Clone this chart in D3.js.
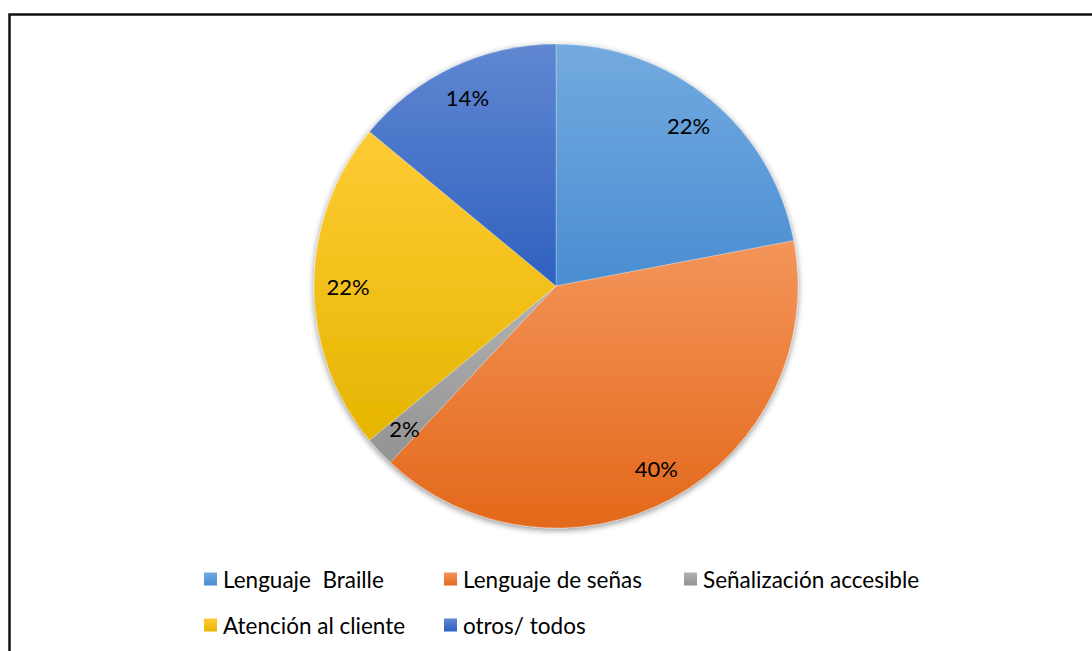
<!DOCTYPE html>
<html><head><meta charset="utf-8">
<script src="https://cdn.jsdelivr.net/npm/d3@7"></script>
<style>body{margin:0;background:#fff}svg{display:block}text{font-family:Lato,"Open Sans",sans-serif;fill:#000}</style>
</head><body><svg id="c" width="1092" height="651"></svg>
<script>
const categories = ["Lenguaje  Braille","Lenguaje de señas","Señalización accesible","Atención al cliente","otros/ todos"];
const values = [22,40,2,22,14];
const labels = ["22%","40%","2%","22%","14%"];
const colorsTop = ["#73aadf","#f4955a","#b2b2b2","#ffcb35","#6087d1"];
const colorsBottom = ["#4a8dd2","#e3681a","#939393","#e6b500","#2f61bf"];

const svg = d3.select("#c");
const W = 1092, H = 651;
svg.append("rect").attr("x",9.5).attr("y",14.5).attr("width",W+20).attr("height",H+20)
  .attr("fill","#fff").attr("stroke","#111").attr("stroke-width",2.5);

const defs = svg.append("defs");
const f = defs.append("filter").attr("id","sh").attr("x","-20%").attr("y","-20%").attr("width","140%").attr("height","140%");
f.append("feDropShadow").attr("dx",0).attr("dy",2).attr("stdDeviation",3).attr("flood-color","#000").attr("flood-opacity",0.45);
categories.forEach((c,i)=>{
  const g = defs.append("linearGradient").attr("id","g"+i).attr("x1",0).attr("y1",0).attr("x2",0).attr("y2",1);
  g.append("stop").attr("offset","0%").attr("stop-color",colorsTop[i]);
  g.append("stop").attr("offset","100%").attr("stop-color",colorsBottom[i]);
});

const cx = 556, cy = 286, r = 242;
const pie = d3.pie().sort(null).value(d=>d)(values);
const arc = d3.arc().innerRadius(0).outerRadius(r);
const labelArc = d3.arc().innerRadius(208).outerRadius(208);
const g = svg.append("g").attr("transform",`translate(${cx},${cy})`);
const sl = g.append("g").attr("filter","url(#sh)");
sl.selectAll("path").data(pie).join("path")
  .attr("d",arc).attr("fill",(d,i)=>`url(#g${i})`)
  .attr("stroke","rgba(255,255,255,0.35)").attr("stroke-width",0.8);
g.selectAll("text.l").data(pie).join("text").attr("class","l")
  .attr("transform",d=>`translate(${labelArc.centroid(d)})`)
  .attr("text-anchor","middle").attr("dominant-baseline","central")
  .style("font-size","22px").text((d,i)=>labels[i]);

const legendPos = [[204,579],[444,579],[684,579],[204,625],[444,625]];
const lg = svg.append("g");
categories.forEach((c,i)=>{
  const [x,y] = legendPos[i];
  lg.append("rect").attr("x",x).attr("y",y-6.5).attr("width",13).attr("height",13).attr("fill",`url(#g${i})`);
  lg.append("text").attr("x",x+19).attr("y",y).attr("dominant-baseline","central")
    .attr("xml:space","preserve").style("white-space","pre").style("font-size","22.5px").text(c);
});
</script></body></html>
